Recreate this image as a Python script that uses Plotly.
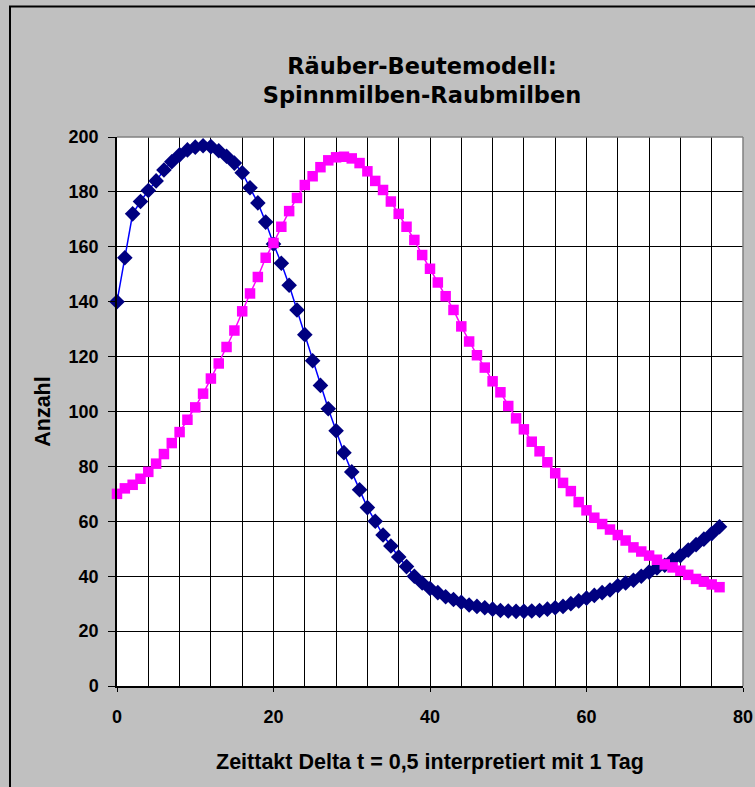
import plotly.graph_objects as go

# Time steps (Zeittakt)
zeit = list(range(78))

# Spinnmilben (prey) - navy diamonds
spinnmilben = [140, 156, 172, 176.5, 180.5, 184, 188, 191, 193.5, 195.3,
               196.3, 196.8, 196.5, 195, 193, 190.5, 187, 181.5, 176, 169,
               161, 154, 146, 137, 128, 118.5, 109.5, 101, 93, 85,
               78, 71.5, 65, 60, 55, 51, 47, 43.5, 40, 37.5,
               35.5, 34, 32.5, 31.5, 30.5, 29.5, 29, 28.5, 28, 27.5,
               27.3, 27.2, 27.2, 27.3, 27.5, 28, 28.5, 29, 30, 31,
               32, 33, 34, 35, 36.5, 37.5, 38.5, 40, 41.5, 43,
               44, 46, 47.5, 49.5, 51.5, 53.5, 55.5, 58]

# Raubmilben (predator) - magenta squares
raubmilben = [70, 72, 73.3, 75.5, 78, 81, 84.5, 88.5, 92.5, 97,
              101.5, 106.5, 112, 117.5, 123.5, 129.5, 136.5, 143, 149, 156,
              161.4, 167.3, 173, 177.8, 182.5, 185.7, 189, 191.5, 192.6, 192.8,
              192.2, 190.5, 187.5, 184, 180.7, 176.5, 172, 167.3, 162.5, 157,
              152, 147, 142, 137, 131, 125.5, 120.5, 116, 111, 107,
              102, 97.5, 93.5, 89, 85.5, 81.5, 77.5, 74, 71, 67,
              64, 61.3, 59, 57, 55, 53, 50.5, 49, 47.5, 46,
              44.3, 43.2, 42, 40.5, 39, 38, 37, 36]

x_ticks = [0, 20, 40, 60, 80]
y_ticks = [0, 20, 40, 60, 80, 100, 120, 140, 160, 180, 200]

fig = go.Figure()
fig.add_trace(go.Scatter(
    x=zeit, y=spinnmilben, mode="lines+markers", name="Spinnmilben",
    line=dict(color="#0000FF", width=1.5),
    marker=dict(symbol="diamond", size=12, color="#000080", line=dict(width=0)),
    cliponaxis=False,
))
fig.add_trace(go.Scatter(
    x=zeit, y=raubmilben, mode="lines+markers", name="Raubmilben",
    line=dict(color="#FF00FF", width=1.5),
    marker=dict(symbol="square", size=10.5, color="#FF00FF", line=dict(width=0)),
    cliponaxis=False,
))

tickfont = dict(family="Liberation Sans, Arial, sans-serif", size=18, color="black", weight="bold")
titlefont = dict(family="Liberation Sans, Arial, sans-serif", size=21.5, color="black", weight="bold")

fig.update_layout(
    width=755, height=787,
    autosize=False,
    margin=dict(l=117, r=12, t=137, b=101, autoexpand=False),
    paper_bgcolor="#C0C0C0",
    plot_bgcolor="white",
    showlegend=False,
    title=dict(
        text="Räuber-Beutemodell:<br>Spinnmilben-Raubmilben",
        x=422 / 755, xanchor="center", xref="container",
        y=1 - 74 / 787, yanchor="middle", yref="container",
        font=dict(family="DejaVu Sans, Verdana, sans-serif", size=22.5, color="black", weight="bold"),
        automargin=False,
    ),
    xaxis=dict(
        range=[0, 80], tickvals=x_ticks, ticktext=[str(v) for v in x_ticks],
        ticks="outside", ticklen=4, tickcolor="black", tickwidth=1,
        showline=True, linecolor="black", linewidth=1.5,
        showgrid=True, gridcolor="black", gridwidth=1,
        minor=dict(dtick=4, showgrid=True, gridcolor="black", gridwidth=1, ticks=""),
        zeroline=False, tickfont=tickfont, ticklabelstandoff=10,
        automargin=False,
        title=dict(text="Zeittakt Delta t = 0,5 interpretiert mit 1 Tag", font=titlefont, standoff=28),
    ),
    yaxis=dict(
        range=[0, 200], tickvals=y_ticks, ticktext=[str(v) for v in y_ticks],
        ticks="outside", ticklen=7, tickcolor="black", tickwidth=1,
        showline=True, linecolor="black", linewidth=1.5,
        showgrid=True, gridcolor="black", gridwidth=1,
        zeroline=False, tickfont=tickfont, ticklabelstandoff=6,
        automargin=False,
        title=dict(text="Anzahl", font=titlefont, standoff=12),
    ),
    shapes=[
        # gray plot-area border on top and right
        dict(type="line", xref="paper", yref="paper", x0=0, x1=1, y0=1, y1=1,
             line=dict(color="#808080", width=1.5), layer="above"),
        dict(type="line", xref="paper", yref="paper", x0=1, x1=1, y0=0, y1=1,
             line=dict(color="#808080", width=1.5), layer="above"),
        # outer chart border (left and top visible)
        dict(type="rect", xref="paper", yref="paper",
             x0=(10 - 117) / 626, x1=1.05, y0=-0.2, y1=(686 - 6.5) / 549,
             line=dict(color="black", width=2), layer="below"),
    ],
)

fig.write_html("out.html")
